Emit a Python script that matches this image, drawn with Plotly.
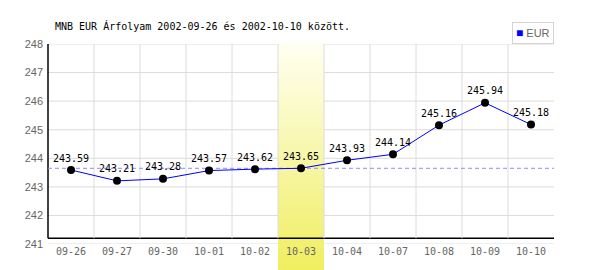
import plotly.graph_objects as go

# ---- data ----
dates = ['09-26', '09-27', '09-30', '10-01', '10-02', '10-03',
         '10-04', '10-07', '10-08', '10-09', '10-10']
values = [243.59, 243.21, 243.28, 243.57, 243.62, 243.65,
          243.93, 244.14, 245.16, 245.94, 245.18]
highlight_date = '10-03'
y_ticks = [241, 242, 243, 244, 245, 246, 247, 248]
series_name = 'EUR'
title_text = 'MNB EUR Árfolyam 2002-09-26 és 2002-10-10 között.'

# ---- geometry ----
W, H = 600, 270
ML, MR, MT, MB = 48, 46, 44, 26
plot_h = H - MT - MB
y_min, y_max = 241, 248
axis_base = 241.2  # value where the black x-axis line sits

n = len(dates)
xs = list(range(n))
hi = dates.index(highlight_date)
ref_value = values[hi]

MONO = 'DejaVu Sans Mono'
SANS = 'Liberation Sans, Arial, sans-serif'

fig = go.Figure()

# reference dashed line (value of highlighted day)
fig.add_trace(go.Scatter(
    x=[-0.5, n - 0.5], y=[ref_value, ref_value], mode='lines',
    line=dict(color='#8c8cff', width=1, dash='4px,3px'),
    hoverinfo='skip', showlegend=False, cliponaxis=False))

# main series
fig.add_trace(go.Scatter(
    x=xs, y=values, mode='lines+markers+text',
    line=dict(color='#0000ff', width=1),
    marker=dict(color='black', size=8),
    text=[f'{v:.2f}' for v in values], textposition='top center',
    textfont=dict(family=MONO, size=10, color='black'),
    name=series_name, showlegend=False, cliponaxis=False))

shapes = []
# horizontal gridlines
for t in y_ticks:
    shapes.append(dict(type='line', xref='paper', yref='y', x0=0, x1=1, y0=t, y1=t,
                       line=dict(color='#dcdcdc', width=1), layer='below'))
# vertical gridlines at category boundaries
for k in range(1, n):
    shapes.append(dict(type='line', xref='x', yref='y', x0=k - 0.5, x1=k - 0.5,
                       y0=axis_base, y1=y_max,
                       line=dict(color='#dcdcdc', width=1), layer='below'))

# highlight column gradient (strips)
px_top, px_bot = MT, H
N = 113
c_top = (255, 255, 242)
c_bot = (240, 238, 96)
x0p = hi / n
x1p = (hi + 1) / n
for i in range(N):
    a = px_top + (px_bot - px_top) * i / N
    b = px_top + (px_bot - px_top) * (i + 1) / N
    f = (i + 0.5) / N
    col = tuple(round(c_top[j] + (c_bot[j] - c_top[j]) * f) for j in range(3))
    shapes.append(dict(type='rect', xref='paper', yref='paper',
                       x0=x0p, x1=x1p,
                       y0=(H - MB - b) / plot_h, y1=(H - MB - a) / plot_h + 0.002,
                       fillcolor='rgb(%d,%d,%d)' % col, line=dict(width=0),
                       layer='below'))

# axis lines
shapes.append(dict(type='line', xref='paper', yref='y', x0=0, x1=1,
                   y0=axis_base, y1=axis_base,
                   line=dict(color='black', width=1.5), layer='below'))
shapes.append(dict(type='line', xref='paper', yref='y', x0=0, x1=0,
                   y0=axis_base, y1=y_max,
                   line=dict(color='black', width=1.5), layer='below'))

annotations = [
    dict(text=title_text, xref='paper', yref='paper',
         x=(53 - ML) / (W - ML - MR), y=(H - MB - 26) / plot_h,
         xanchor='left', yanchor='middle', showarrow=False,
         font=dict(family=MONO, size=10, color='black')),
    dict(text="<span style='color:#0000ff;font-size:12px'>■</span> " + series_name,
         xref='paper', yref='paper',
         x=1, y=(H - MB - 22) / plot_h, xanchor='right', yanchor='top',
         showarrow=False, bordercolor='#d4d4d4', borderwidth=1, borderpad=3,
         bgcolor='white', font=dict(family=SANS, size=11, color='#666666')),
]

fig.update_layout(
    width=W, height=H,
    margin=dict(l=ML, r=MR, t=MT, b=MB, pad=0),
    paper_bgcolor='white', plot_bgcolor='rgba(0,0,0,0)',
    showlegend=False,
    shapes=shapes, annotations=annotations,
    xaxis=dict(range=[-0.5, n - 0.5], tickmode='array', tickvals=xs, ticktext=dates,
               showgrid=False, zeroline=False, showline=False, ticks='',
               tickfont=dict(family=MONO, size=10, color='#666666'), fixedrange=True),
    yaxis=dict(range=[y_min, y_max], tickmode='array', tickvals=y_ticks,
               showgrid=False, zeroline=False, showline=False, ticks='',
               ticklabelstandoff=4,
               tickfont=dict(family=SANS, size=11, color='#666666'), fixedrange=True),
)

fig.write_html('out.html')
